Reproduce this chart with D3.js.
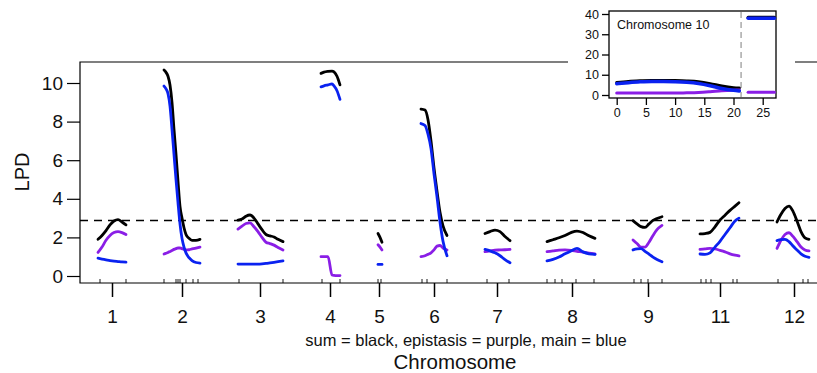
<!DOCTYPE html>
<html><head><meta charset="utf-8">
<script src="https://cdn.jsdelivr.net/npm/d3@7"></script>
<style>body{margin:0;background:#fff}svg{display:block;font-family:"Liberation Sans",Arial,sans-serif}</style>
</head><body><div id="chart"></div>
<script>
// ---- data (cumulative position in cM, LPD values) ----
const chromNames = ["1","2","3","4","5","6","7","8","9","11","12"];
const chromCenters = [16,51,90,125,149.5,177,208.5,246,284,320,357];
const markerPos = [10,23, 42,48,49,50,53,56.5,59, 79.5,101.5, 121,130, 149,150.5, 171,173.5,183.5,
  203.5,214.5, 233.5,237.5,241,248,257, 277,280.5,284,291, 310.5,313,315.5,326.5,328.5, 349,361.5,364];

const pos1 = [9,11,13,15,17,19,21,23];
const sum1 = [1.9,2.1,2.35,2.65,2.85,2.92,2.8,2.65];
const epi1 = [1.22,1.5,1.85,2.1,2.25,2.3,2.25,2.15];
const main1 = [0.92,0.88,0.84,0.8,0.77,0.75,0.73,0.72];

const pos2 = [42,43,44,45,46,47,48,49,50,51,52,53,54.5,56,58,60];
const sum2 = [10.67,10.55,10.35,9.9,9.0,7.6,6.3,4.9,3.6,3.0,2.5,2.15,1.95,1.85,1.85,1.9];
const epi2 = [1.14,1.18,1.22,1.27,1.32,1.38,1.42,1.45,1.45,1.42,1.38,1.35,1.36,1.4,1.45,1.5];
const main2 = [9.84,9.7,9.45,8.8,7.6,6.3,5.0,3.8,2.7,1.95,1.5,1.2,0.95,0.8,0.7,0.67];

const pos3 = [79,81,83,85,87,89,91,93,95,97,99,101.5];
const sum3 = [2.9,2.95,3.1,3.16,3.0,2.7,2.4,2.15,2.08,2.02,1.9,1.78];
const epi3 = [2.43,2.58,2.72,2.75,2.55,2.3,2.0,1.75,1.68,1.6,1.48,1.35];
const main3 = [0.62,0.62,0.62,0.62,0.62,0.62,0.63,0.65,0.68,0.71,0.74,0.78];

const pos4 = [120.5,122,124,126,127,128.5,130];
const sum4 = [10.5,10.56,10.6,10.62,10.58,10.35,9.9];
const epi4 = [1.0,1.0,1.0,0.05,0.03,0.02,0.02];
const main4 = [9.8,9.85,9.9,9.95,9.85,9.6,9.15];

const pos5 = [149,150,151];
const sum5 = [2.2,2.0,1.75];
const epi5 = [1.62,1.5,1.35];
const main5 = [0.6,0.6,0.6];

const pos6 = [170.5,172.5,174,175.5,177,178.5,180,181.5,183.5];
const sum6 = [8.65,8.6,8.1,7.0,5.6,4.4,3.3,2.6,2.1];
const epi6 = [1.0,1.05,1.12,1.2,1.35,1.55,1.58,1.45,1.35];
const main6 = [7.9,7.8,7.35,6.6,5.3,4.1,2.8,1.8,1.05];

const pos7 = [202.5,205,207.5,210,212.5,215];
const sum7 = [2.2,2.3,2.38,2.3,2.05,1.83];
const epi7 = [1.26,1.3,1.34,1.35,1.36,1.38];
const main7 = [1.38,1.3,1.2,1.05,0.85,0.69];

const pos8 = [233.5,236.5,239.5,242.5,245.5,248.5,251.5,254.5,257.5];
const sum8 = [1.78,1.88,1.98,2.1,2.25,2.33,2.25,2.08,1.95];
const epi8 = [1.26,1.3,1.34,1.35,1.33,1.28,1.24,1.18,1.14];
const main8 = [0.78,0.86,0.98,1.15,1.3,1.43,1.25,1.15,1.12];

const pos9 = [276.5,278.5,280.5,282.5,284.5,286.5,288.5,291];
const sum9 = [2.87,2.7,2.56,2.52,2.7,2.88,2.98,3.07];
const epi9 = [1.87,1.68,1.5,1.5,1.75,2.1,2.4,2.62];
const main9 = [1.35,1.4,1.42,1.28,1.13,0.98,0.86,0.74];

const pos11 = [310,312.5,315,317.5,320,322.5,325,327.5,329.5];
const sum11 = [2.18,2.2,2.26,2.55,2.9,3.15,3.4,3.62,3.8];
const epi11 = [1.38,1.4,1.43,1.4,1.33,1.25,1.15,1.08,1.04];
const main11 = [1.14,1.12,1.2,1.5,1.8,2.15,2.5,2.85,3.0];

const pos12 = [348.5,350.5,352.5,354.5,356.5,358.5,360.5,362.5,364.5];
const sum12 = [2.8,3.2,3.5,3.62,3.35,2.85,2.3,1.98,1.9];
const epi12 = [1.43,1.85,2.15,2.24,2.05,1.78,1.5,1.35,1.3];
const main12 = [1.83,1.88,1.9,1.78,1.55,1.35,1.15,1.02,0.97];

const threshold = 2.87;
const yTicks = [0,2,4,6,8,10];

// inset: chromosome 10
const insetPosA = [0,2,4,6,8,10,12,14,16,18,20,21];
const insetSumA = [6.2,6.7,7.0,7.2,7.2,7.1,6.9,6.5,5.6,4.4,3.6,3.4];
const insetEpiA = [1.0,1.0,1.0,1.0,1.0,1.0,1.05,1.2,1.6,2.1,2.4,2.5];
const insetMainA = [5.6,6.1,6.5,6.7,6.7,6.6,6.3,5.7,4.6,3.2,2.3,2.0];
const insetPosB = [22.5,27];
const insetSumB = [38.4,38.4];
const insetEpiB = [1.3,1.3];
const insetMainB = [37.9,37.9];
const insetBreak = 21.3;
const insetXTicks = [0,5,10,15,20,25];
const insetYTicks = [0,10,20,30,40];

// ---- drawing ----
const W = 817, H = 373;
const FONT = "Liberation Sans, Arial, sans-serif";
const svg = d3.select("#chart").append("svg").attr("width", W).attr("height", H);

const x = d3.scaleLinear().domain([0, 368.5]).range([80, 817]);
const y = d3.scaleLinear().domain([0, 10]).range([276, 83]);
const plotTop = 62, plotBottom = 283, plotLeft = 80;

const BLACK = "#000", PURPLE = "#8a1ee6", BLUE = "#0a22f0";

// frame
svg.append("path").attr("d", `M${W+5},${plotTop}H${plotLeft}V${plotBottom}H${W+5}`)
  .attr("fill","none").attr("stroke","#000").attr("stroke-width",1.2);

// y axis ticks & labels
const yAxis = d3.axisLeft(y).tickValues(yTicks).tickSize(13).tickPadding(4);
const gy = svg.append("g").attr("transform", `translate(${plotLeft},0)`).call(yAxis);
gy.select(".domain").remove();
gy.selectAll("line").attr("stroke-width",1.2);
gy.selectAll("text").attr("font-size",19).attr("font-family",FONT).attr("fill","#111");

// x axis major ticks (down)
const xAxis = d3.axisBottom(x).tickValues(chromCenters).tickFormat((d,i)=>chromNames[i]).tickSize(14).tickPadding(13);
const gx = svg.append("g").attr("transform", `translate(0,${plotBottom})`).call(xAxis);
gx.select(".domain").remove();
gx.selectAll("line").attr("stroke-width",1.5);
gx.selectAll("text").attr("font-size",19).attr("font-family",FONT).attr("fill","#111");

// marker ticks (up)
svg.append("g").selectAll("line").data(markerPos).join("line")
  .attr("x1", d=>x(d)).attr("x2", d=>x(d)).attr("y1", plotBottom).attr("y2", plotBottom-4)
  .attr("stroke","#000").attr("stroke-width",0.9);

// threshold
svg.append("line").attr("x1",plotLeft).attr("x2",W+5).attr("y1",y(threshold)).attr("y2",y(threshold))
  .attr("stroke","#000").attr("stroke-width",1.5).attr("stroke-dasharray","8,6");

// curves
const chroms = [
  [pos1,sum1,epi1,main1],[pos2,sum2,epi2,main2],[pos3,sum3,epi3,main3],[pos4,sum4,epi4,main4],
  [pos5,sum5,epi5,main5],[pos6,sum6,epi6,main6],[pos7,sum7,epi7,main7],[pos8,sum8,epi8,main8],
  [pos9,sum9,epi9,main9],[pos11,sum11,epi11,main11],[pos12,sum12,epi12,main12]
];
const line = d3.line().x(d=>x(d[0])).y(d=>y(d[1])).curve(d3.curveMonotoneX);
const gc = svg.append("g");
chroms.forEach(([p,s,e,m]) => {
  [[s,BLACK],[e,PURPLE],[m,BLUE]].forEach(([vals,col]) => {
    gc.append("path").datum(p.map((pp,i)=>[pp,vals[i]]))
      .attr("d", line).attr("fill","none").attr("stroke",col).attr("stroke-width",2.8)
      .attr("stroke-linecap","round").attr("stroke-linejoin","round");
  });
});

// axis labels
svg.append("text").attr("transform","translate(29,172) rotate(-90)").attr("text-anchor","middle")
  .attr("font-size",20).attr("fill","#111").text("LPD");
svg.append("text").attr("x",466).attr("y",346).attr("text-anchor","middle")
  .attr("font-size",16.5).attr("fill","#111").text("sum = black, epistasis = purple, main = blue");
svg.append("text").attr("x",455).attr("y",369).attr("text-anchor","middle")
  .attr("font-size",20.5).attr("fill","#111").text("Chromosome");

// ---- inset ----
svg.append("rect").attr("x",568).attr("y",0).attr("width",227).attr("height",124).attr("fill","#fff");
const ix = d3.scaleLinear().domain([0,25]).range([616.7,762.7]);
const iy = d3.scaleLinear().domain([0,40]).range([95,14]);
const iL = 609, iR = 776, iT = 11, iB = 98;
svg.append("rect").attr("x",iL).attr("y",iT).attr("width",iR-iL).attr("height",iB-iT)
  .attr("fill","none").attr("stroke","#000").attr("stroke-width",1.3);
const giy = svg.append("g").attr("transform",`translate(${iL},0)`)
  .call(d3.axisLeft(iy).tickValues(insetYTicks).tickSize(7).tickPadding(3));
giy.select(".domain").remove();
giy.selectAll("line").attr("stroke-width",1.3);
giy.selectAll("text").attr("font-size",12.5).attr("font-family",FONT).attr("fill","#111");
const gix = svg.append("g").attr("transform",`translate(0,${iB})`)
  .call(d3.axisBottom(ix).tickValues(insetXTicks).tickSize(7).tickPadding(3));
gix.select(".domain").remove();
gix.selectAll("line").attr("stroke-width",1.3);
gix.selectAll("text").attr("font-size",12.5).attr("font-family",FONT).attr("fill","#111");

svg.append("line").attr("x1",ix(insetBreak)).attr("x2",ix(insetBreak)).attr("y1",iT+1).attr("y2",iB-1)
  .attr("stroke","#aaa").attr("stroke-width",1.5).attr("stroke-dasharray","6,4");

const iline = d3.line().x(d=>ix(d[0])).y(d=>iy(d[1])).curve(d3.curveMonotoneX);
[[insetPosA,insetSumA,insetEpiA,insetMainA],[insetPosB,insetSumB,insetEpiB,insetMainB]].forEach(([p,s,e,m])=>{
  [[s,BLACK,3],[e,PURPLE,3],[m,BLUE,3.5]].forEach(([vals,col,w])=>{
    svg.append("path").datum(p.map((pp,i)=>[pp,vals[i]])).attr("d",iline)
      .attr("fill","none").attr("stroke",col).attr("stroke-width",w).attr("stroke-linecap","round");
  });
});
svg.append("text").attr("x",617).attr("y",29).attr("font-size",12.5).attr("fill","#111").text("Chromosome 10");
</script></body></html>
